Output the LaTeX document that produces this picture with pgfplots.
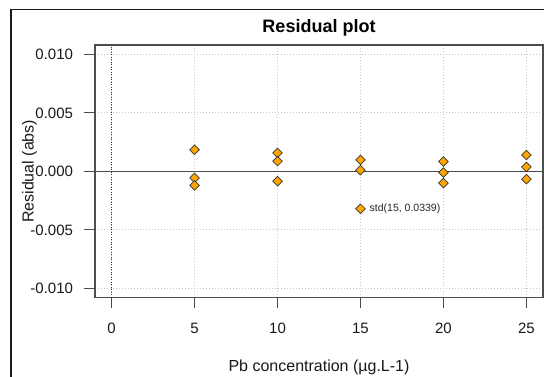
\documentclass[border=0pt]{standalone}
\usepackage{pgfplots}
\pgfplotsset{compat=1.18}
\usepackage{fontspec}
\setmainfont{Liberation Sans}
\definecolor{ptorange}{HTML}{FFA500}
\begin{document}
\begin{tikzpicture}
\useasboundingbox (0pt,0pt) rectangle (544pt,376pt);
\fill[white] (0pt,0pt) rectangle (544pt,376pt);
\draw[line width=1.3pt, black!90] (11pt,-10pt) -- (11pt,366.7pt) -- (560pt,366.7pt);
\begin{axis}[
  at={(95pt,78.3pt)}, anchor=south west,
  scale only axis, width=448pt, height=252.7pt,
  xmin=-1, xmax=26, ymin=-0.0108, ymax=0.0108,
  axis line style={draw=black!70, line width=1.1pt},
  tick align=outside, major tick length=10.5pt,
  tick style={draw=black!70, line width=1.1pt},
  xtick pos=bottom, ytick pos=left,
  xtick={0,5,10,15,20,25},
  ytick={-0.01,-0.005,0,0.005,0.01},
  yticklabels={-0.010,-0.005,0.000,0.005,0.010},
  scaled y ticks=false,
  /pgf/number format/assume math mode=true,
  ticklabel style={font=\fontsize{15}{17}\selectfont, text=black!90},
  xticklabel style={anchor=center, yshift=-20.5pt},
  yticklabel style={anchor=east, xshift=-8pt},
  grid=major,
  grid style={black!22, dash pattern=on 1pt off 2pt, line width=0.8pt},
  title={Residual plot},
  title style={at={(axis description cs:0.5,1.067)}, anchor=center, yshift=-6pt, font=\bfseries\fontsize{18}{20}\selectfont},
  xlabel={Pb concentration (µg.L-1)},
  xlabel style={at={(axis description cs:0.5,-0.276)}, anchor=center, font=\fontsize{16}{18}\selectfont, text=black!90},
  ylabel={Residual (abs)},
  ylabel style={at={(axis description cs:-0.146,0.5)}, anchor=center, font=\fontsize{16}{18}\selectfont, text=black!90},
]
\addplot[black!70, line width=1.3pt] coordinates {(-1,0) (26,0)};
\addplot[black!80, dash pattern=on 1pt off 1.5pt, line width=0.9pt] coordinates {(0,-0.0108) (0,0.0108)};
\addplot[only marks, mark=square*, mark size=3.4pt,
  mark options={rotate=45, fill=ptorange, draw=black!80, line width=0.7pt}]
  coordinates {
  (5,0.00184) (5,-0.00056) (5,-0.0012)
  (10,0.00158) (10,0.00087) (10,-0.00084)
  (15,0.00098) (15,0.0001) (15,-0.0032)
  (20,0.00084) (20,-0.0001) (20,-0.001)
  (25,0.0014) (25,0.00038) (25,-0.00067)
  };
\node[anchor=west, inner sep=0pt, xshift=9pt, font=\fontsize{10.5}{12}\selectfont, text=black!85] at (axis cs:15,-0.0032) {std(15, 0.0339)};
\end{axis}
\end{tikzpicture}
\end{document}
